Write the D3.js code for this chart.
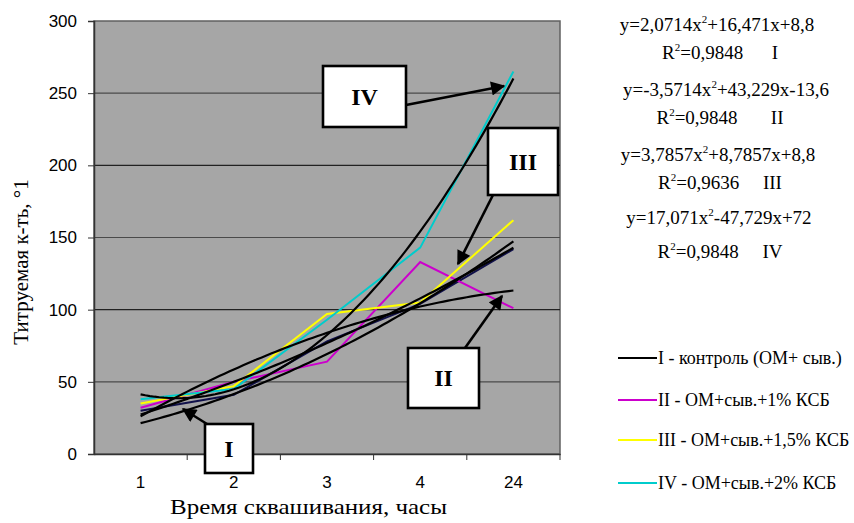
<!DOCTYPE html>
<html><head><meta charset="utf-8">
<script src="https://cdn.jsdelivr.net/npm/d3@7"></script>
<style>body{margin:0;background:#fff}svg{display:block}</style>
</head><body>
<svg id="c" width="854" height="523"></svg>
<script>
const categories = ["1","2","3","4","24"];
const seriesNames = ["I - контроль (ОМ+ сыв.)","II - ОМ+сыв.+1% КСБ","III - ОМ+сыв.+1,5% КСБ","IV - ОМ+сыв.+2% КСБ"];
const seriesI   = [30, 41, 78, 104, 142];
const seriesII  = [32, 50, 64, 133, 101];
const seriesIII = [35, 47, 97, 105, 162];
const seriesIV  = [38, 45, 93, 143, 265];
const seriesColors = ["#10104a","#cc00cc","#ffff00","#00cccc"];
const trendCoefs = [[2.0714,16.471,8.8],[-3.5714,43.229,-13.6],[3.7857,8.7857,8.8],[17.071,-47.729,72]];
const eqLines = ["y=2,0714x|2|+16,471x+8,8","R|2|=0,9848      I","y=-3,5714x|2|+43,229x-13,6","R|2|=0,9848       II","y=3,7857x|2|+8,7857x+8,8","R|2|=0,9636     III","y=17,071x|2|-47,729x+72","R|2|=0,9848     IV"];
const yTicks = [0,50,100,150,200,250,300];

const svg = d3.select("#c");
const L=94,R=560,T=21,B=454;
const xb = d3.scaleBand().domain(categories).range([L,R]).padding(0);
const xl = d3.scaleLinear().domain([0.5,5.5]).range([L,R]);
const y = d3.scaleLinear().domain([0,300]).range([B,T]);

svg.append("rect").attr("x",L).attr("y",T).attr("width",R-L).attr("height",B-T)
  .attr("fill","#a6a6a6").attr("stroke","#606060").attr("stroke-width",1.5);

// gridlines
svg.append("g").selectAll("line").data(yTicks.filter(d=>d>0&&d<300)).join("line")
  .attr("x1",L).attr("x2",R).attr("y1",d=>y(d)).attr("y2",d=>y(d))
  .attr("stroke",(d,i)=>i%2? "#222":"#4a4a4a").attr("stroke-width",1.2);

// axes
const ya = svg.append("g").attr("transform",`translate(${L},0)`)
  .call(d3.axisLeft(y).tickValues(yTicks).tickSize(6).tickPadding(11));
ya.select(".domain").attr("stroke","#333").attr("stroke-width",1.5);
ya.selectAll("line").attr("stroke","#333");
ya.selectAll("text").attr("font-family","Liberation Sans, Arial, sans-serif").attr("font-size",17).attr("fill","#000");

const xa = svg.append("g").attr("transform",`translate(0,${B})`)
  .call(d3.axisBottom(xb).tickSize(0).tickPadding(22));
xa.select(".domain").attr("stroke","#333").attr("stroke-width",1.5);
xa.selectAll("text").attr("font-family","Liberation Sans, Arial, sans-serif").attr("font-size",17).attr("fill","#000");
svg.append("g").selectAll("line").data(categories.slice(1).concat(["end"])).join("line")
  .attr("x1",d=>d==="end"?R:xb(d)).attr("x2",d=>d==="end"?R:xb(d))
  .attr("y1",B).attr("y2",B+6).attr("stroke","#333");

// data lines
const allSeries=[seriesI,seriesII,seriesIII,seriesIV];
const line = d3.line().x((d,i)=>xl(i+1)).y(d=>y(d));
svg.append("g").selectAll("path").data(allSeries).join("path")
  .attr("d",d=>line(d)).attr("fill","none")
  .attr("stroke",(d,i)=>seriesColors[i]).attr("stroke-width",2);

// trend lines
const tline = d3.line().x(d=>xl(d[0])).y(d=>y(d[1]));
svg.append("g").selectAll("path").data(trendCoefs).join("path")
  .attr("d",c=>tline(d3.range(1,5.001,0.05).map(t=>[t,c[0]*t*t+c[1]*t+c[2]])))
  .attr("fill","none").attr("stroke","#000").attr("stroke-width",2.2);

// arrow marker
svg.append("defs").append("marker").attr("id","ah").attr("viewBox","0 0 10 10")
  .attr("refX",9).attr("refY",5).attr("markerWidth",6).attr("markerHeight",5.5)
  .attr("markerUnits","strokeWidth").attr("orient","auto")
  .append("path").attr("d","M0,0L10,5L0,10Z").attr("fill","#000");

const boxes=[
  {t:"IV",x:323,y:66,w:83,h:61,ax1:406,ay1:105,ax2:504,ay2:86},
  {t:"III",x:488,y:128,w:70,h:67,ax1:493,ay1:195,ax2:458,ay2:264},
  {t:"II",x:408,y:348,w:71,h:60,ax1:465,ay1:348,ax2:502,ay2:296},
  {t:"I",x:205,y:424,w:48,h:49,ax1:207,ay1:424,ax2:183,ay2:409}
];
const bg=svg.append("g");
boxes.forEach(b=>{
  bg.append("line").attr("x1",b.ax1).attr("y1",b.ay1).attr("x2",b.ax2).attr("y2",b.ay2)
    .attr("stroke","#000").attr("stroke-width",2.6).attr("marker-end","url(#ah)");
  bg.append("rect").attr("x",b.x).attr("y",b.y).attr("width",b.w).attr("height",b.h)
    .attr("fill","#fff").attr("stroke","#000").attr("stroke-width",2.6);
  bg.append("text").attr("x",b.x+b.w/2).attr("y",b.y+b.h/2+8).attr("text-anchor","middle")
    .attr("font-family","Liberation Serif, Times New Roman, serif").attr("font-weight","bold")
    .attr("font-size",24).text(b.t);
});

// axis titles
svg.append("text").attr("x",170).attr("y",514)
  .attr("font-family","Liberation Serif, Times New Roman, serif").attr("font-size",22)
  .attr("textLength",277).attr("lengthAdjust","spacingAndGlyphs").text("Время сквашивания, часы");
svg.append("text").attr("transform","translate(28,262) rotate(-90)").attr("text-anchor","middle")
  .attr("font-family","Liberation Serif, Times New Roman, serif").attr("font-size",21).text("Титруемая к-ть, °1");

// equations
const eqX=[717,720,726,720,718,720,719,720];
const eqY=[31,59,96,124,161,189,224,258];
const eg=svg.append("g").attr("font-family","Liberation Serif, Times New Roman, serif").attr("font-size",19);
eqLines.forEach((s,i)=>{
  const parts=s.split("|");
  const t=eg.append("text").attr("x",eqX[i]).attr("y",eqY[i]).attr("text-anchor","middle").attr("xml:space","preserve");
  parts.forEach((p,j)=>{
    const ts=t.append("tspan").text(p);
    if(j===1) ts.attr("font-size",11).attr("dy",-8);
    if(j===2) ts.attr("dy",8);
  });
});

// legend
const legY=[358,400,440,483];
const lg=svg.append("g");
seriesNames.forEach((n,i)=>{
  lg.append("line").attr("x1",618).attr("x2",657).attr("y1",legY[i]).attr("y2",legY[i])
    .attr("stroke",i===0?"#000":seriesColors[i]).attr("stroke-width",2);
  lg.append("text").attr("x",658).attr("y",legY[i]+6)
    .attr("font-family","Liberation Serif, Times New Roman, serif").attr("font-size",18).text(n);
});
</script>
</body></html>
